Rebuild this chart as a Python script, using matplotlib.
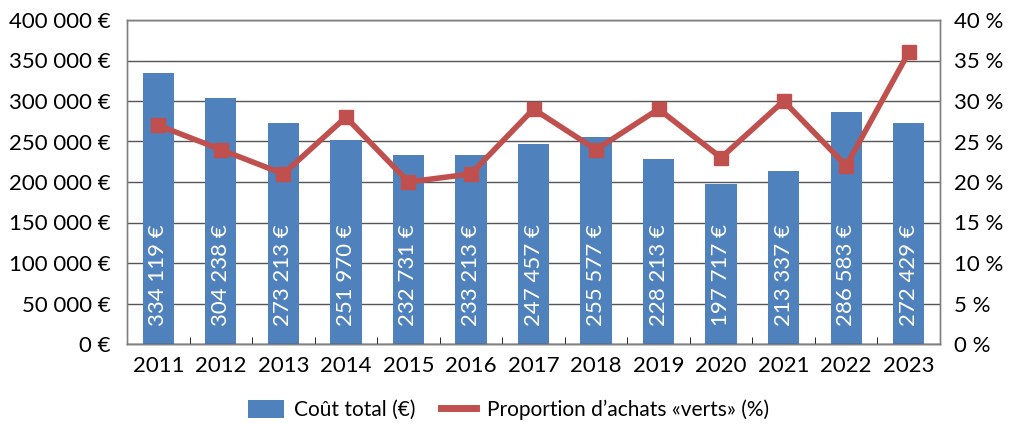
import matplotlib
matplotlib.use("Agg")
import matplotlib.pyplot as plt
from matplotlib.ticker import FuncFormatter, FixedLocator
from matplotlib.lines import Line2D
from matplotlib.patches import Patch

plt.rcParams['font.family'] = ['Lato', 'DejaVu Sans']

years = ['2011', '2012', '2013', '2014', '2015', '2016', '2017',
         '2018', '2019', '2020', '2021', '2022', '2023']
cout_total = [334119, 304238, 273213, 251970, 232731, 233213, 247457,
              255577, 228213, 197717, 213337, 286583, 272429]
part_verts = [27, 24, 21, 28, 20, 21, 29, 24, 29, 23, 30, 22, 36]

BLUE = '#4f81bd'
RED = '#c0504d'
FS = 16

def fr_thousands(v):
    return f"{int(round(v)):,}".replace(',', ' ')

fig = plt.figure(figsize=(10.13, 4.25), dpi=100)
ax = fig.add_axes([127/1013, 1 - 344/425, (940 - 127)/1013, (344 - 20)/425])
ax2 = ax.twinx()

x = list(range(len(years)))
ax.bar(x, cout_total, width=0.5, color=BLUE, zorder=2)
ax.set_xlim(-0.5, len(years) - 0.5)
ax.set_ylim(0, 400000)
ax.set_yticks(range(0, 400001, 50000))
ax.yaxis.set_major_formatter(FuncFormatter(lambda v, p: f"{fr_thousands(v)} €"))
ax.grid(axis='y', color='#555555', linewidth=1.0, zorder=0)
ax.set_axisbelow(True)

for xi, v in zip(x, cout_total):
    ax.text(xi, 22000, f"{fr_thousands(v)} €", rotation=90, ha='center', va='bottom',
            color='white', fontsize=FS, zorder=4)

ax.set_xticks(x)
ax.set_xticklabels(years)
ax.xaxis.set_minor_locator(FixedLocator([i + 0.5 for i in range(len(years) - 1)]))
ax.tick_params(axis='x', which='major', length=0, labelsize=FS, pad=9)
ax.tick_params(axis='x', which='minor', length=5, direction='in', color='black')
ax.tick_params(axis='y', length=0, labelsize=FS, pad=12)

ax2.plot(x, part_verts, color=RED, linewidth=4, marker='s', markersize=10,
         markeredgecolor=RED, zorder=5)
ax2.set_ylim(0, 40)
ax2.set_yticks(range(0, 41, 5))
ax2.yaxis.set_major_formatter(FuncFormatter(lambda v, p: f"{int(v)} %"))
ax2.tick_params(axis='y', length=0, labelsize=FS, pad=10)

for a in (ax, ax2):
    for s in a.spines.values():
        s.set_color('#808080')
        s.set_linewidth(1.0)
ax.spines['bottom'].set_color('#333333')

handles = [Patch(facecolor=BLUE, edgecolor='none'),
           Line2D([0], [0], color=RED, linewidth=5)]
fig.legend(handles, ['Coût total (€)', "Proportion d’achats «verts» (%)"],
           loc='center', bbox_to_anchor=(0.502, 1 - 410/425),
           ncol=2, frameon=False, fontsize=15, handlelength=1.7, handleheight=1.0,
           handletextpad=0.5, columnspacing=1.2)

fig.savefig('out.png', dpi=100)
